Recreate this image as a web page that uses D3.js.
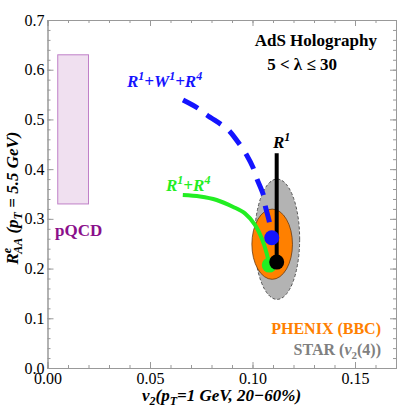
<!DOCTYPE html>
<html>
<head>
<meta charset="utf-8">
<script src="https://cdn.jsdelivr.net/npm/d3@7"></script>
</head>
<body style="margin:0; background:#fff">
<script>

// tick values
var xTicks = [0, 0.05, 0.10, 0.15]
var yTicks = [0, 0.1, 0.2, 0.3, 0.4, 0.5, 0.6, 0.7]
var xMinor = d3.range(0, 0.171, 0.01)
var yMinor = d3.range(0, 0.701, 0.02)

// pQCD band
var pqcdX = [0.005, 0.02]
var pqcdY = [0.33, 0.63]

// experimental ellipses: center, half widths
var starCenter = [0.112, 0.259]
var starRadius = [0.011, 0.121]
var phenixCenter = [0.1096, 0.249]
var phenixRadius = [0.0099, 0.0706]

// model curves (v2, RAA)
var blueCurve = [[0.0661, 0.539], [0.0736, 0.522], [0.0777, 0.509], [0.0850, 0.489], [0.0882, 0.479],
                 [0.0939, 0.449], [0.0972, 0.428], [0.1004, 0.402], [0.1020, 0.382], [0.1053, 0.348],
                 [0.1061, 0.328], [0.1082, 0.294], [0.1094, 0.262]]
var greenCurve = [[0.0660, 0.348], [0.0744, 0.345], [0.0825, 0.338], [0.0906, 0.324], [0.0963, 0.311],
                  [0.1012, 0.288], [0.1045, 0.261], [0.1069, 0.231], [0.1082, 0.207]]
var blackLine = [[0.1118, 0.213], [0.1118, 0.432]]

// end points
var dots = [
  {x: 0.1094, y: 0.262, c: "#1414ff"},
  {x: 0.1082, y: 0.207, c: "#22ee22"},
  {x: 0.1118, y: 0.213, c: "#000"}
]

var SERIF = "'Liberation Serif'"
var W = 415, H = 410
var svg = d3.select("body").append("svg")
          .attr("width", W)
          .attr("height", H);

var x = d3.scaleLinear().domain([0, 0.17]).range([47.5, 396])
var y = d3.scaleLinear().domain([0, 0.7]).range([368, 20])

// pQCD box
svg.append("rect")
    .attr("x", x(pqcdX[0]))
    .attr("y", y(pqcdY[1]))
    .attr("width", x(pqcdX[1]) - x(pqcdX[0]))
    .attr("height", y(pqcdY[0]) - y(pqcdY[1]))
    .attr("fill", "#f0e0f0")
    .attr("stroke", "#c080c8")
    .attr("stroke-width", 1);

// STAR ellipse
svg.append("ellipse")
    .attr("cx", x(starCenter[0])).attr("cy", y(starCenter[1]))
    .attr("rx", x(starRadius[0]) - x(0)).attr("ry", y(0) - y(starRadius[1]))
    .attr("fill", "#b3b3b3")
    .attr("stroke", "#555")
    .attr("stroke-dasharray", "3,2")
    .attr("stroke-width", 1);

// PHENIX ellipse
svg.append("ellipse")
    .attr("cx", x(phenixCenter[0])).attr("cy", y(phenixCenter[1]))
    .attr("rx", x(phenixRadius[0]) - x(0)).attr("ry", y(0) - y(phenixRadius[1]))
    .attr("fill", "#ff8000")
    .attr("stroke", "#6a3a10")
    .attr("stroke-width", 0.8);

var line = d3.line()
    .x(function(d) { return x(d[0]) })
    .y(function(d) { return y(d[1]) })
    .curve(d3.curveCatmullRom);

svg.append("path")
    .attr("d", line(blueCurve))
    .attr("fill", "none")
    .attr("stroke", "#1414ff")
    .attr("stroke-width", 5)
    .attr("stroke-dasharray", "17,11");

svg.append("path")
    .attr("d", line(greenCurve))
    .attr("fill", "none")
    .attr("stroke", "#22ee22")
    .attr("stroke-width", 4);

svg.append("path")
    .attr("d", line(blackLine))
    .attr("fill", "none")
    .attr("stroke", "#000")
    .attr("stroke-width", 4);

svg.selectAll(".dot")
    .data(dots)
    .enter().append("circle")
    .attr("class", "dot")
    .attr("cx", function(d) { return x(d.x) })
    .attr("cy", function(d) { return y(d.y) })
    .attr("r", 7.5)
    .attr("fill", function(d) { return d.c });

// frame + ticks (inward, Mathematica style)
function addAxis(gen, tx, ty, vals, size, fmt, pad) {
  var g = svg.append("g")
      .attr("transform", "translate(" + tx + "," + ty + ")")
      .call(gen.tickValues(vals).tickSize(size).tickFormat(fmt).tickPadding(pad))
  g.selectAll("path, line").attr("stroke", "#999").attr("stroke-width", 1)
  g.selectAll("text").attr("fill", "#000").style("font-family", SERIF).style("font-size", "16px")
  return g
}
var fx = d3.format(".2f"), fy = d3.format(".1f"), none = function() { return "" }

addAxis(d3.axisBottom(x), 0, y(0), xMinor, -3, none, 0)
addAxis(d3.axisBottom(x), 0, y(0), xTicks, -6, fx, 5)
addAxis(d3.axisTop(x), 0, y(0.7), xMinor, -3, none, 0)
addAxis(d3.axisTop(x), 0, y(0.7), xTicks, -6, none, 0)
addAxis(d3.axisLeft(y), x(0), 0, yMinor, -3, none, 0)
addAxis(d3.axisLeft(y), x(0), 0, yTicks, -6, fy, 3)
addAxis(d3.axisRight(y), x(0.17), 0, yMinor, -3, none, 0)
addAxis(d3.axisRight(y), x(0.17), 0, yTicks, -6, none, 0)

// labels
function label(xp, yp, color, size, anchor) {
  return svg.append("text")
      .attr("x", xp).attr("y", yp)
      .attr("fill", color)
      .style("font-family", SERIF)
      .style("font-size", size + "px")
      .style("font-weight", "bold")
      .attr("text-anchor", anchor || "start")
}
function script(t, s, dy, size) {
  t.append("tspan").attr("dy", dy).style("font-size", size + "px").text(s)
}

var t = label(377, 46, "#000", 17, "end").text("AdS Holography")
label(337, 70, "#000", 17, "end").text("5 < λ ≤ 30")

t = label(127, 87, "#1414ff", 17).style("font-style", "italic")
t.append("tspan").text("R"); script(t, "1", -7, 12)
t.append("tspan").attr("dy", 7).text("+W"); script(t, "1", -7, 12)
t.append("tspan").attr("dy", 7).text("+R"); script(t, "4", -7, 12)

t = label(166, 191, "#22ee22", 17).style("font-style", "italic")
t.append("tspan").text("R"); script(t, "1", -7, 12)
t.append("tspan").attr("dy", 7).text("+R"); script(t, "4", -7, 12)

t = label(273, 148, "#000", 17).style("font-style", "italic")
t.append("tspan").text("R"); script(t, "1", -7, 12)

label(55, 236, "#8b108b", 17).text("pQCD")

label(381, 334, "#ff8000", 16, "end").text("PHENIX (BBC)")
t = label(381, 355, "#808080", 16, "end")
t.append("tspan").text("STAR (")
t.append("tspan").style("font-style", "italic").text("v")
script(t, "2", 4, 11)
t.append("tspan").attr("dy", -4).text("(4))")

// x axis title
t = label(221.5, 401, "#000", 17, "middle").style("font-style", "italic")
t.append("tspan").text("v")
script(t, "2", 4, 12)
t.append("tspan").attr("dy", -4).text("(p")
script(t, "T", 4, 12)
t.append("tspan").attr("dy", -4).text("=1 GeV, 20\u221260%)")

// y axis title
t = label(0, 0, "#000", 17, "middle")
    .attr("transform", "translate(18,198) rotate(-90)")
    .style("font-style", "italic")
t.append("tspan").text("R")
script(t, "e", -7, 12)
t.append("tspan").attr("dx", -6).attr("dy", 11).style("font-size", "12px").text("AA")
t.append("tspan").attr("dy", -4).text(" (p")
script(t, "T", 4, 12)
t.append("tspan").attr("dy", -4).text(" = 5.5 GeV)")

</script>
</body>
</html>
